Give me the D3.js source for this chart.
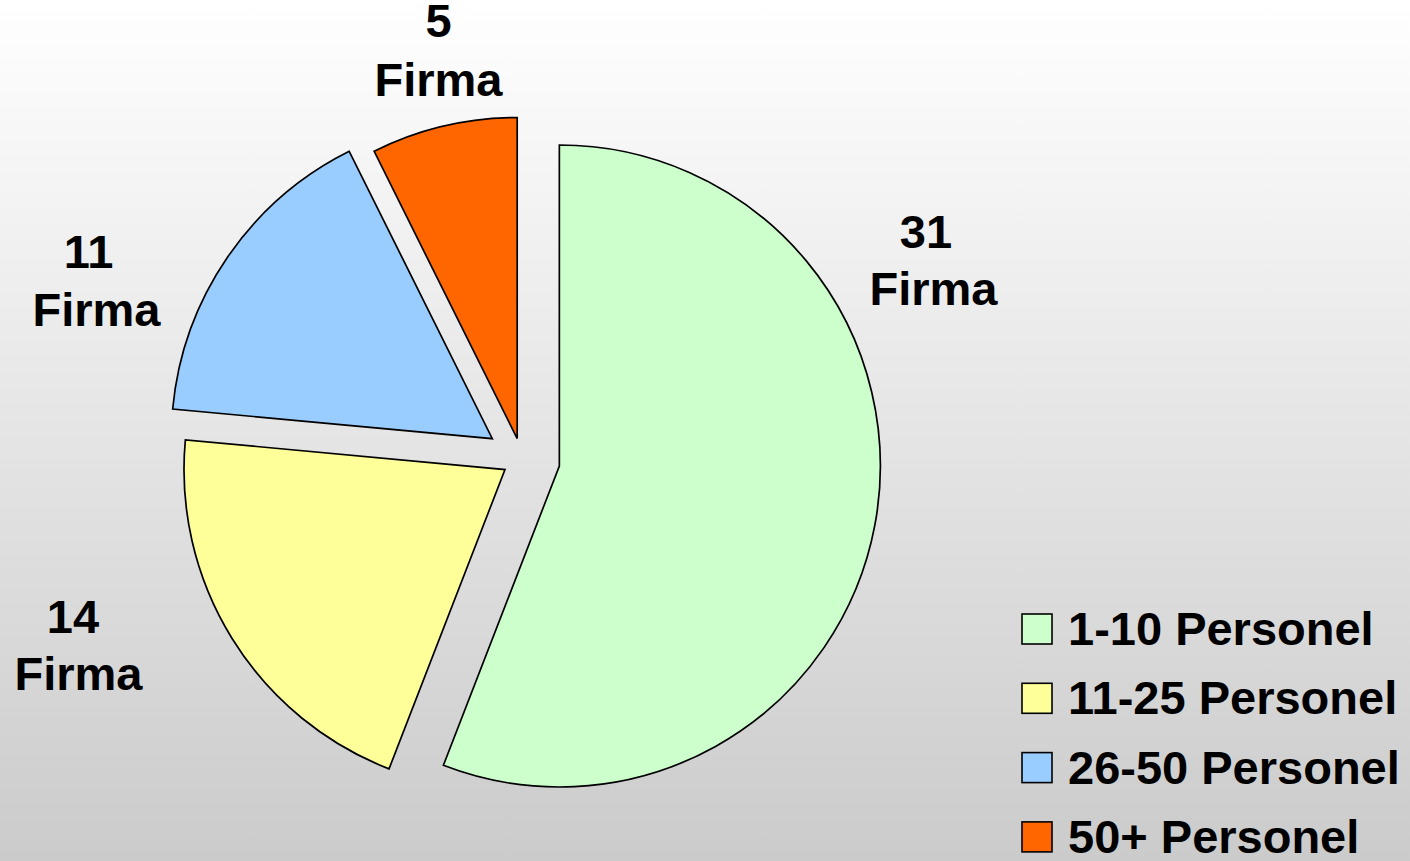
<!DOCTYPE html>
<html>
<head>
<meta charset="utf-8">
<script src="https://cdn.jsdelivr.net/npm/d3@7"></script>
<style>
  html, body { margin: 0; padding: 0; }
  svg { display: block; }
  text { font-family: "Liberation Sans", Arial, sans-serif; font-weight: bold; fill: #000; }
</style>
</head>
<body>
<svg id="chart" width="1410" height="861"></svg>
<script>
// ---- data ----
const categories = ["1-10 Personel", "11-25 Personel", "26-50 Personel", "50+ Personel"];
const sliceValues = [38, 14, 11, 5];      // slice sizes as drawn
const labelCounts = [31, 14, 11, 5];      // numbers printed on the labels
const labelUnit = "Firma";

// ---- style / layout ----
const colors = ["#ccffcc", "#ffff99", "#99ccff", "#ff6600"];
const W = 1410, H = 861;
const cx = 522, cy = 459, R = 321;
const explode = [38, 20, 36, 21];
const fontSize = 47;
const labelLayout = [
  { nx: 926, ny: 248, ux: 933.5, uy: 305 },
  { nx: 73, ny: 633, ux: 78.5, uy: 690 },
  { nx: 88.5, ny: 268, ux: 96.5, uy: 326 },
  { nx: 438.5, ny: 37, ux: 438.5, uy: 96 }
];

const svg = d3.select("#chart");
const defs = svg.append("defs");
const grad = defs.append("linearGradient").attr("id", "bg")
  .attr("x1", 0).attr("y1", 0).attr("x2", 0).attr("y2", 1);
grad.append("stop").attr("offset", "0%").attr("stop-color", "#ffffff");
grad.append("stop").attr("offset", "100%").attr("stop-color", "#cbcbcb");
svg.append("rect").attr("width", W).attr("height", H).attr("fill", "url(#bg)");

const data = categories.map((c, i) => ({ cat: c, value: sliceValues[i], count: labelCounts[i], i }));
const pie = d3.pie().sort(null).value(d => d.value);
const arcs = pie(data);
const arc = d3.arc().innerRadius(0).outerRadius(R);

const g = svg.append("g").attr("transform", `translate(${cx},${cy})`);
g.selectAll("path").data(arcs).join("path")
  .attr("d", arc)
  .attr("fill", d => colors[d.data.i])
  .attr("stroke", "#000")
  .attr("stroke-width", 1.7)
  .attr("stroke-linejoin", "miter")
  .attr("transform", d => {
    const a = (d.startAngle + d.endAngle) / 2;
    const e = explode[d.data.i];
    return `translate(${Math.sin(a) * e},${-Math.cos(a) * e})`;
  });

// labels
const lab = svg.append("g");
arcs.forEach(d => {
  const L = labelLayout[d.data.i];
  lab.append("text").attr("x", L.nx).attr("y", L.ny).attr("text-anchor", "middle")
    .attr("font-size", fontSize).text(d.data.count);
  lab.append("text").attr("x", L.ux).attr("y", L.uy).attr("text-anchor", "middle")
    .attr("font-size", fontSize).text(labelUnit);
});

// legend
const leg = svg.append("g");
const legX = 1022, legY0 = 645, legStep = 69.3, box = 30;
categories.forEach((c, i) => {
  const y = legY0 + i * legStep;
  leg.append("rect").attr("x", legX).attr("y", y - box - 1).attr("width", box).attr("height", box)
    .attr("fill", colors[i]).attr("stroke", "#000").attr("stroke-width", 1.6);
  leg.append("text").attr("x", 1068).attr("y", y).attr("font-size", fontSize).text(c);
});
</script>
</body>
</html>
